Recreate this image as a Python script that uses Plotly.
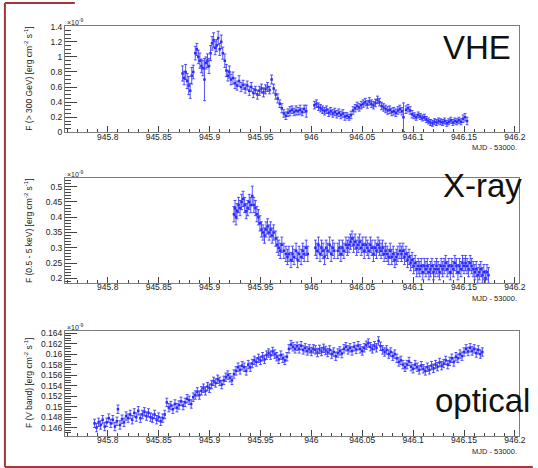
import plotly.graph_objects as go

# ---------------- VHE light curve (F > 300 GeV, units of 1e-9 erg cm^-2 s^-1)
vhe_t = [945.8735, 945.8750, 945.8765, 945.8780, 945.8795, 945.8810, 945.8825, 945.8840,
         945.8860, 945.8875, 945.8890, 945.8905, 945.8920, 945.8935, 945.8950, 945.8965,
         945.8980, 945.8995, 945.9010, 945.9025, 945.9040, 945.9055, 945.9070, 945.9085,
         945.9100, 945.9115, 945.9130, 945.9150, 945.9165, 945.9180, 945.9195, 945.9210,
         945.9230, 945.9250, 945.9270, 945.9290, 945.9310, 945.9330, 945.9350, 945.9370,
         945.9390, 945.9410, 945.9430, 945.9450, 945.9470, 945.9490, 945.9510, 945.9530,
         945.9550, 945.9570, 945.9590, 945.9610, 945.9630, 945.9650, 945.9670, 945.9690,
         945.9710, 945.9730, 945.9750, 945.9770, 945.9790, 945.9810, 945.9830, 945.9850,
         945.9870, 945.9890, 945.9910, 945.9930, 945.9950,
         946.0030, 946.0050, 946.0070, 946.0090, 946.0110, 946.0130, 946.0150, 946.0170,
         946.0190, 946.0210, 946.0230, 946.0250, 946.0270, 946.0290, 946.0310, 946.0330,
         946.0350, 946.0370, 946.0390, 946.0410, 946.0430, 946.0450, 946.0470, 946.0490,
         946.0510, 946.0530, 946.0550, 946.0570, 946.0590, 946.0610, 946.0630, 946.0650,
         946.0670, 946.0690, 946.0710, 946.0730, 946.0750, 946.0770, 946.0790, 946.0810,
         946.0830, 946.0850, 946.0870, 946.0890, 946.0905, 946.0930, 946.0950, 946.0970,
         946.0990, 946.1010, 946.1030, 946.1050, 946.1070, 946.1090, 946.1110, 946.1130,
         946.1150, 946.1170, 946.1190, 946.1210, 946.1230, 946.1250, 946.1270, 946.1290,
         946.1310, 946.1330, 946.1350, 946.1370, 946.1390, 946.1410, 946.1430, 946.1450,
         946.1470, 946.1490, 946.1510, 946.1530]
vhe_f = [0.78, 0.72, 0.80, 0.68, 0.62, 0.55, 0.75, 0.80,
         1.05, 1.10, 1.00, 0.95, 0.88, 0.85, 0.70, 0.92,
         0.95, 0.88, 1.05, 1.18, 1.22, 1.12, 1.15, 1.25,
         1.10, 1.20, 1.05, 0.95, 0.82, 0.75, 0.80, 0.70,
         0.72, 0.65, 0.62, 0.68, 0.60, 0.63, 0.58, 0.62,
         0.55, 0.60, 0.52, 0.56, 0.50, 0.55, 0.58, 0.53,
         0.57, 0.60, 0.56, 0.70, 0.58, 0.50, 0.45, 0.38,
         0.32, 0.25, 0.22, 0.26, 0.28, 0.30, 0.27, 0.29,
         0.28, 0.30, 0.27, 0.31, 0.28,
         0.36, 0.38, 0.34, 0.32, 0.30, 0.28, 0.30, 0.26,
         0.28, 0.25, 0.27, 0.24, 0.26, 0.23, 0.25, 0.21,
         0.22, 0.20, 0.23, 0.29, 0.32, 0.35, 0.33, 0.36,
         0.38, 0.40, 0.37, 0.41, 0.38, 0.36, 0.39, 0.43,
         0.40, 0.35, 0.33, 0.31, 0.29, 0.30, 0.27, 0.28,
         0.26, 0.29, 0.31, 0.28, 0.20, 0.30, 0.32, 0.29,
         0.24, 0.22, 0.20, 0.23, 0.21, 0.19, 0.20, 0.17,
         0.15, 0.13, 0.12, 0.14, 0.13, 0.15, 0.14, 0.13,
         0.15, 0.12, 0.14, 0.16, 0.13, 0.15, 0.14, 0.16,
         0.14, 0.18, 0.20, 0.15]
vhe_e = [0.10, 0.09, 0.10, 0.10, 0.12, 0.10, 0.11, 0.09,
         0.09, 0.08, 0.09, 0.10, 0.09, 0.10, 0.28, 0.08,
         0.09, 0.10, 0.10, 0.09, 0.10, 0.09, 0.08, 0.09,
         0.08, 0.09, 0.08, 0.09, 0.08, 0.07, 0.08, 0.07,
         0.08, 0.07, 0.06, 0.07, 0.06, 0.06, 0.06, 0.06,
         0.06, 0.06, 0.06, 0.05, 0.06, 0.06, 0.06, 0.06,
         0.06, 0.06, 0.05, 0.06, 0.06, 0.06, 0.06, 0.05,
         0.06, 0.05, 0.05, 0.05, 0.06, 0.05, 0.05, 0.06,
         0.05, 0.06, 0.05, 0.05, 0.08,
         0.05, 0.05, 0.05, 0.05, 0.05, 0.05, 0.05, 0.05,
         0.05, 0.05, 0.05, 0.05, 0.05, 0.05, 0.05, 0.05,
         0.04, 0.04, 0.05, 0.05, 0.05, 0.05, 0.05, 0.05,
         0.05, 0.05, 0.05, 0.05, 0.05, 0.05, 0.05, 0.05,
         0.05, 0.05, 0.05, 0.05, 0.05, 0.05, 0.05, 0.05,
         0.05, 0.05, 0.05, 0.05, 0.19, 0.05, 0.05, 0.05,
         0.05, 0.04, 0.04, 0.04, 0.04, 0.04, 0.04, 0.04,
         0.04, 0.04, 0.04, 0.04, 0.04, 0.04, 0.04, 0.04,
         0.04, 0.04, 0.04, 0.04, 0.04, 0.04, 0.04, 0.04,
         0.04, 0.05, 0.05, 0.05]

# ---------------- X-ray light curve (0.5 - 5 keV, units of 1e-9 erg cm^-2 s^-1)
xr_t = [945.9240, 945.9250, 945.9260, 945.9270, 945.9285, 945.9300, 945.9315, 945.9330,
        945.9345, 945.9360, 945.9375, 945.9390, 945.9405, 945.9420, 945.9435, 945.9450,
        945.9465, 945.9480, 945.9495, 945.9510, 945.9525, 945.9540, 945.9555, 945.9570,
        945.9585, 945.9600, 945.9615, 945.9630, 945.9650, 945.9665, 945.9680, 945.9695,
        945.9710, 945.9730, 945.9750, 945.9765, 945.9780, 945.9800, 945.9815, 945.9830,
        945.9850, 945.9865, 945.9880, 945.9900, 945.9915, 945.9930, 945.9950, 945.9965,
        946.0040, 946.0055, 946.0070, 946.0085, 946.0100, 946.0115, 946.0130, 946.0145,
        946.0160, 946.0180, 946.0195, 946.0210, 946.0225, 946.0260, 946.0275, 946.0290,
        946.0305, 946.0320, 946.0340, 946.0355, 946.0370, 946.0385, 946.0400, 946.0415,
        946.0430, 946.0445, 946.0460, 946.0475, 946.0490, 946.0505, 946.0520, 946.0535,
        946.0550, 946.0565, 946.0580, 946.0595, 946.0610, 946.0625, 946.0640, 946.0655,
        946.0670, 946.0685, 946.0700, 946.0715, 946.0730, 946.0745, 946.0760, 946.0775,
        946.0790, 946.0805, 946.0820, 946.0835, 946.0850, 946.0870, 946.0885, 946.0900,
        946.0915, 946.0930, 946.0945, 946.0960, 946.0975, 946.0990, 946.1005, 946.1020,
        946.1035, 946.1050, 946.1065, 946.1080, 946.1095, 946.1110, 946.1125, 946.1140,
        946.1155, 946.1170, 946.1185, 946.1200, 946.1215, 946.1230, 946.1245, 946.1260,
        946.1275, 946.1290, 946.1305, 946.1320, 946.1335, 946.1350, 946.1365, 946.1380,
        946.1395, 946.1410, 946.1425, 946.1440, 946.1455, 946.1470, 946.1485, 946.1500,
        946.1515, 946.1530, 946.1545, 946.1560, 946.1575, 946.1590, 946.1605, 946.1620,
        946.1635, 946.1650, 946.1665, 946.1680, 946.1695, 946.1710, 946.1725, 946.1740]
xr_f = [0.41, 0.43, 0.40, 0.42, 0.44, 0.43, 0.45, 0.46,
        0.44, 0.42, 0.43, 0.45, 0.44, 0.47, 0.44, 0.43,
        0.41, 0.40, 0.38, 0.36, 0.35, 0.34, 0.36, 0.37,
        0.35, 0.36, 0.34, 0.35, 0.33, 0.31, 0.30, 0.29,
        0.31, 0.29, 0.28, 0.27, 0.28, 0.26, 0.28, 0.27,
        0.29, 0.26, 0.28, 0.27, 0.29, 0.28, 0.30, 0.28,
        0.30, 0.29, 0.31, 0.28, 0.30, 0.29, 0.27, 0.30,
        0.29, 0.31, 0.28, 0.30, 0.29, 0.29, 0.30, 0.28,
        0.30, 0.29, 0.31, 0.30, 0.31, 0.32, 0.33, 0.31,
        0.32, 0.30, 0.31, 0.32, 0.30, 0.31, 0.29, 0.31,
        0.30, 0.29, 0.31, 0.30, 0.28, 0.30, 0.29, 0.31,
        0.30, 0.29, 0.30, 0.28, 0.29, 0.28, 0.27, 0.29,
        0.27, 0.28, 0.26, 0.27, 0.28, 0.29, 0.28, 0.29,
        0.27, 0.28, 0.26, 0.27, 0.25, 0.26, 0.24, 0.25,
        0.23, 0.24, 0.23, 0.24, 0.22, 0.24, 0.23, 0.24,
        0.22, 0.23, 0.24, 0.22, 0.23, 0.24, 0.23, 0.22,
        0.24, 0.23, 0.24, 0.25, 0.23, 0.24, 0.22, 0.24,
        0.23, 0.25, 0.24, 0.22, 0.24, 0.23, 0.25, 0.24,
        0.25, 0.24, 0.23, 0.25, 0.24, 0.23, 0.22, 0.23,
        0.21, 0.22, 0.23, 0.21, 0.22, 0.20, 0.22, 0.21]
xr_e = [0.025] * 13 + [0.032] + [0.025] * (len(xr_t) - 14)

# ---------------- Optical light curve (V band, units of 1e-9 erg cm^-2 s^-1)
opt_t = [945.7870, 945.7890, 945.7910, 945.7930, 945.7950, 945.7970, 945.7990, 945.8010,
         945.8030, 945.8050, 945.8070, 945.8090, 945.8100, 945.8120, 945.8140, 945.8160,
         945.8180, 945.8200, 945.8220, 945.8240, 945.8260, 945.8280, 945.8300, 945.8320,
         945.8340, 945.8360, 945.8380, 945.8400, 945.8420, 945.8440, 945.8460, 945.8480,
         945.8500, 945.8520, 945.8540, 945.8560, 945.8580, 945.8600, 945.8620, 945.8640,
         945.8660, 945.8680, 945.8700, 945.8720, 945.8740, 945.8760, 945.8780, 945.8800,
         945.8820, 945.8840, 945.8860, 945.8880, 945.8900, 945.8920, 945.8940, 945.8960,
         945.8980, 945.9000, 945.9020, 945.9040, 945.9060, 945.9080, 945.9100, 945.9120,
         945.9140, 945.9160, 945.9180, 945.9200, 945.9220, 945.9240, 945.9260, 945.9280,
         945.9300, 945.9320, 945.9340, 945.9360, 945.9380, 945.9400, 945.9420, 945.9440,
         945.9460, 945.9480, 945.9500, 945.9520, 945.9540, 945.9560, 945.9580, 945.9600,
         945.9620, 945.9640, 945.9660, 945.9680, 945.9700, 945.9720, 945.9740, 945.9760,
         945.9780, 945.9800, 945.9820, 945.9840, 945.9860, 945.9880, 945.9900, 945.9920,
         945.9940, 945.9960, 945.9980, 946.0000, 946.0020, 946.0040, 946.0060, 946.0080,
         946.0100, 946.0120, 946.0140, 946.0160, 946.0180, 946.0200, 946.0220, 946.0240,
         946.0260, 946.0280, 946.0300, 946.0320, 946.0340, 946.0360, 946.0380, 946.0400,
         946.0420, 946.0440, 946.0460, 946.0480, 946.0500, 946.0520, 946.0540, 946.0560,
         946.0580, 946.0600, 946.0620, 946.0640, 946.0660, 946.0680, 946.0700, 946.0720,
         946.0740, 946.0760, 946.0780, 946.0800, 946.0820, 946.0840, 946.0860, 946.0880,
         946.0900, 946.0920, 946.0940, 946.0960, 946.0980, 946.1000, 946.1020, 946.1040,
         946.1060, 946.1080, 946.1100, 946.1120, 946.1140, 946.1160, 946.1180, 946.1200,
         946.1220, 946.1240, 946.1260, 946.1280, 946.1300, 946.1320, 946.1340, 946.1360,
         946.1380, 946.1400, 946.1420, 946.1440, 946.1460, 946.1480, 946.1500, 946.1520,
         946.1540, 946.1560, 946.1580, 946.1600, 946.1620, 946.1640, 946.1660, 946.1680]
opt_f = [0.1468, 0.1460, 0.1470, 0.1465, 0.1475, 0.1462, 0.1470, 0.1478,
         0.1468, 0.1475, 0.1462, 0.1472, 0.1495, 0.1465, 0.1476, 0.1470,
         0.1482, 0.1478, 0.1485, 0.1475, 0.1488, 0.1480, 0.1492, 0.1478,
         0.1485, 0.1490, 0.1482, 0.1488, 0.1480, 0.1478, 0.1485, 0.1475,
         0.1480, 0.1472, 0.1478, 0.1485, 0.1508, 0.1498, 0.1502, 0.1495,
         0.1505, 0.1498, 0.1503, 0.1510, 0.1502, 0.1508, 0.1515, 0.1512,
         0.1505, 0.1518, 0.1522, 0.1528, 0.1522, 0.1530, 0.1535, 0.1530,
         0.1538, 0.1535, 0.1542, 0.1548, 0.1545, 0.1552, 0.1548, 0.1542,
         0.1550, 0.1556, 0.1560, 0.1555, 0.1550, 0.1562, 0.1568, 0.1575,
         0.1570, 0.1578, 0.1575, 0.1568, 0.1580, 0.1575, 0.1582, 0.1588,
         0.1585, 0.1592, 0.1588, 0.1595, 0.1590, 0.1598, 0.1602, 0.1598,
         0.1605, 0.1600, 0.1595, 0.1590, 0.1598, 0.1592, 0.1588, 0.1595,
         0.1610, 0.1618, 0.1614, 0.1610, 0.1615, 0.1610, 0.1616, 0.1608,
         0.1612, 0.1606, 0.1610, 0.1605, 0.1610, 0.1608, 0.1603, 0.1609,
         0.1605, 0.1611, 0.1607, 0.1603, 0.1608, 0.1600, 0.1604, 0.1596,
         0.1602, 0.1606, 0.1601, 0.1610, 0.1614, 0.1608, 0.1612, 0.1606,
         0.1614, 0.1609, 0.1616, 0.1610, 0.1606, 0.1612, 0.1617, 0.1621,
         0.1614, 0.1610, 0.1616, 0.1612, 0.1625, 0.1615, 0.1608, 0.1604,
         0.1608, 0.1600, 0.1604, 0.1596, 0.1600, 0.1592, 0.1585, 0.1588,
         0.1580, 0.1575, 0.1580, 0.1586, 0.1576, 0.1572, 0.1580, 0.1575,
         0.1570, 0.1578, 0.1572, 0.1568, 0.1575, 0.1570, 0.1578, 0.1573,
         0.1580, 0.1576, 0.1584, 0.1578, 0.1582, 0.1588, 0.1580, 0.1586,
         0.1592, 0.1585, 0.1595, 0.1592, 0.1600, 0.1596, 0.1604, 0.1610,
         0.1605, 0.1612, 0.1606, 0.1610, 0.1602, 0.1608, 0.1600, 0.1604]
opt_e = [0.0008] * len(opt_t)

# ---------------- axis labels and ticks
x_ticks = [945.8, 945.85, 945.9, 945.95, 946.0, 946.05, 946.1, 946.15, 946.2]
x_ticklabels = ["945.8", "945.85", "945.9", "945.95", "946", "946.05", "946.1", "946.15", "946.2"]
panel_names = ["VHE", "X-ray", "optical"]
y_titles = ["F (> 300 GeV) [erg cm<sup>-2</sup> s<sup>-1</sup>]",
            "F (0.5 - 5 keV) [erg cm<sup>-2</sup> s<sup>-1</sup>]",
            "F (V band) [erg cm<sup>-2</sup> s<sup>-1</sup>]"]
x_title = "MJD - 53000."
exponent = "\u00d710<sup>-9</sup>"

FONT = "Liberation Sans, Arial, sans-serif"
BLUE = "#2a2aff"
FRAME = "#7c7c7c"

# layout geometry (margins in px, panel domains in paper units)
W, H = 538, 468
ML, MR, MT, MB = 65, 12, 26, 32
domains = [[0.7407, 1.0], [0.3739, 0.6285], [0.0, 0.2561]]
y_ranges = [[0.0, 1.41], [0.1856, 0.5275], [0.1444, 0.1644]]
y_dticks = [0.2, 0.05, 0.002]
y_minor = [0.05, 0.01, 0.0005]
y_tick0 = [0.0, 0.2, 0.146]

fig = go.Figure()
series = [(vhe_t, vhe_f, vhe_e), (xr_t, xr_f, xr_e), (opt_t, opt_f, opt_e)]
for i, (t, f, e) in enumerate(series):
    sfx = "" if i == 0 else str(i + 1)
    fig.add_trace(go.Scatter(
        x=t, y=f, mode="markers",
        xaxis="x" + sfx, yaxis="y" + sfx,
        marker=dict(symbol="square", size=2.5, color=BLUE),
        error_y=dict(type="data", array=e, color=BLUE, thickness=0.8, width=1.5),
        showlegend=False, hoverinfo="skip"))

layout = dict(
    width=W, height=H,
    margin=dict(l=ML, r=MR, t=MT, b=MB),
    paper_bgcolor="white", plot_bgcolor="white",
    font=dict(family=FONT, size=9, color="#222"),
)

for i in range(3):
    sfx = "" if i == 0 else str(i + 1)
    layout["xaxis" + sfx] = dict(
        domain=[0, 1], anchor="y" + sfx, range=[945.758, 946.204],
        tickmode="array", tickvals=x_ticks, ticktext=x_ticklabels,
        ticks="inside", ticklen=6, tickcolor="#444", tickfont=dict(size=8.5, color="#222"),
        ticklabelstandoff=-4,
        minor=dict(dtick=0.01, tick0=945.8, ticks="inside", ticklen=3, tickcolor="#444"),
        showline=True, linecolor=FRAME, linewidth=1, mirror=True,
        showgrid=False, zeroline=False, fixedrange=True)
    layout["yaxis" + sfx] = dict(
        domain=domains[i], anchor="x" + sfx, range=y_ranges[i],
        tick0=y_tick0[i], dtick=y_dticks[i],
        ticks="inside", ticklen=12, tickcolor="#444", tickfont=dict(size=8.5, color="#222"),
        minor=dict(dtick=y_minor[i], tick0=y_tick0[i], ticks="inside", ticklen=6, tickcolor="#444"),
        showline=True, linecolor=FRAME, linewidth=1, mirror=True,
        showgrid=False, zeroline=False, fixedrange=True)

fig.update_layout(**layout)

pw = W - ML - MR
ph = H - MT - MB


def px_x(p):
    return (p - ML) / pw


def px_y(p):
    return (H - MB - p) / ph


ann = []
for i in range(3):
    d0, d1 = domains[i]
    ann.append(dict(text=y_titles[i], x=px_x(28), y=(d0 + d1) / 2, xref="paper", yref="paper",
                    textangle=-90, showarrow=False, font=dict(size=8.5, color="#222"),
                    xanchor="center", yanchor="middle"))
    ann.append(dict(text=exponent, x=0.0, y=d1, xref="paper", yref="paper", showarrow=False,
                    font=dict(size=7, color="#222"), xanchor="left", yanchor="bottom", yshift=-2))
    ann.append(dict(text=x_title, x=1.0, y=d0, xref="paper", yref="paper", showarrow=False,
                    font=dict(size=7.5, color="#222"), xanchor="right", yanchor="top", yshift=-9))

big = dict(size=33, color="#111", family=FONT)
ann.append(dict(text=panel_names[0], x=px_x(483), y=px_y(47), xref="paper", yref="paper",
                showarrow=False, font=big, xanchor="center", yanchor="middle"))
ann.append(dict(text=panel_names[1], x=px_x(489), y=px_y(185), xref="paper", yref="paper",
                showarrow=False, font=big, xanchor="center", yanchor="middle"))
ann.append(dict(text=panel_names[2], x=px_x(489), y=px_y(400), xref="paper", yref="paper",
                showarrow=False, font=big, xanchor="center", yanchor="middle"))
fig.update_layout(annotations=ann)

# slide frame lines around the figure
RED = "#a5363a"
shapes = [
    dict(type="line", xref="paper", yref="paper", x0=px_x(4), x1=px_x(4), y0=px_y(3), y1=px_y(467),
         line=dict(color=RED, width=2)),
    dict(type="line", xref="paper", yref="paper", x0=px_x(4), x1=px_x(75), y0=px_y(3), y1=px_y(3),
         line=dict(color=RED, width=2)),
    dict(type="line", xref="paper", yref="paper", x0=px_x(4), x1=px_x(540), y0=px_y(467), y1=px_y(467),
         line=dict(color=RED, width=2)),
]
fig.update_layout(shapes=shapes)

fig.write_html("out.html")
